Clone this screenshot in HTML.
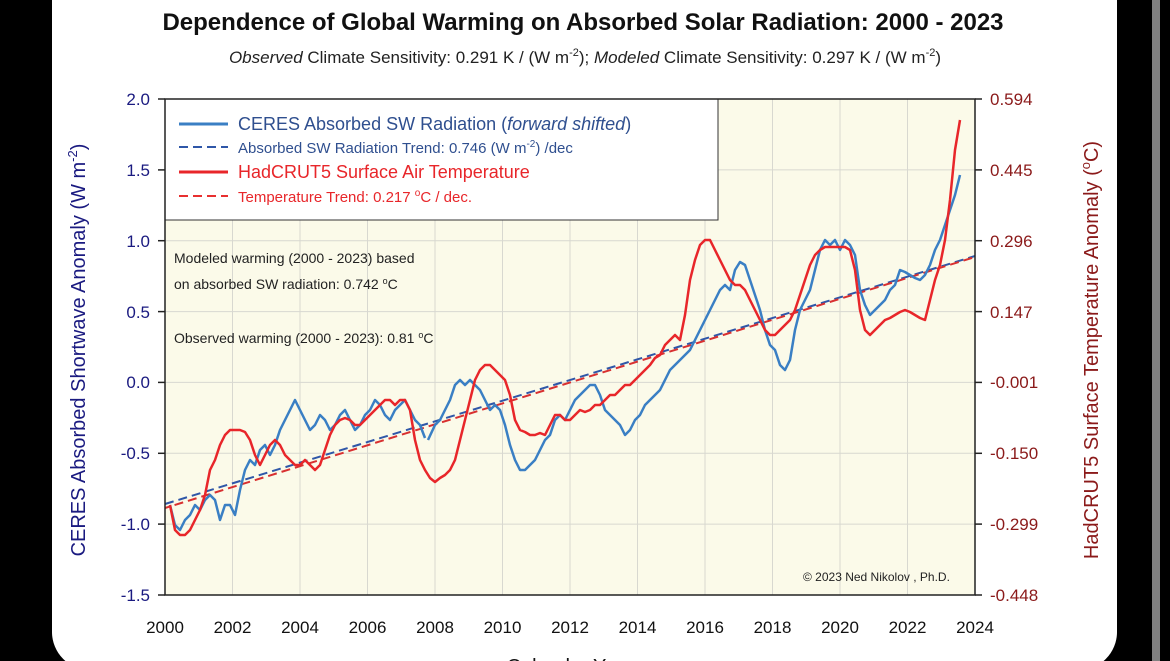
<!DOCTYPE html>
<html><head><meta charset="utf-8"><style>
body{margin:0;background:#000;width:1170px;height:661px;overflow:hidden}
svg{display:block}
text{font-family:"Liberation Sans",sans-serif}
</style></head><body>
<svg width="1170" height="661" viewBox="0 0 1170 661">
<rect width="1170" height="661" fill="#000"/>
<rect x="1152" y="0" width="8" height="661" fill="#808080"/>
<rect x="52" y="-40" width="1065" height="710" rx="38" fill="#fff"/>
<text x="583" y="30" text-anchor="middle" font-size="24" font-weight="bold" fill="#111">Dependence of Global Warming on Absorbed Solar Radiation: 2000 - 2023</text>
<text x="585" y="63" text-anchor="middle" font-size="17" fill="#222"><tspan font-style="italic">Observed</tspan> Climate Sensitivity: 0.291 K / (W m<tspan dy="-7" font-size="11">-2</tspan><tspan dy="7">);</tspan> <tspan font-style="italic">Modeled</tspan> Climate Sensitivity: 0.297 K / (W m<tspan dy="-7" font-size="11">-2</tspan><tspan dy="7">)</tspan></text>
<rect x="165" y="99" width="810" height="496" fill="#fbfae9"/>
<g stroke="#d8d8d0" stroke-width="1">
<line x1="232.5" y1="99" x2="232.5" y2="595"/><line x1="300" y1="99" x2="300" y2="595"/><line x1="367.5" y1="99" x2="367.5" y2="595"/><line x1="435" y1="99" x2="435" y2="595"/><line x1="502.5" y1="99" x2="502.5" y2="595"/><line x1="570" y1="99" x2="570" y2="595"/><line x1="637.5" y1="99" x2="637.5" y2="595"/><line x1="705" y1="99" x2="705" y2="595"/><line x1="772.5" y1="99" x2="772.5" y2="595"/><line x1="840" y1="99" x2="840" y2="595"/><line x1="907.5" y1="99" x2="907.5" y2="595"/>
<line x1="165" y1="169.9" x2="975" y2="169.9"/><line x1="165" y1="240.7" x2="975" y2="240.7"/><line x1="165" y1="311.6" x2="975" y2="311.6"/><line x1="165" y1="382.4" x2="975" y2="382.4"/><line x1="165" y1="453.3" x2="975" y2="453.3"/><line x1="165" y1="524.1" x2="975" y2="524.1"/>
</g>
<line x1="165" y1="504" x2="975" y2="256" stroke="#2f57a8" stroke-width="2" stroke-dasharray="9,5"/>
<line x1="165" y1="508" x2="975" y2="257" stroke="#d83030" stroke-width="2" stroke-dasharray="9,5" stroke-dashoffset="4"/>
<polyline fill="none" stroke="#3a7fc4" stroke-width="2.5" stroke-linejoin="round" points="170,505 175,525 180,530 185,520 190,515 195,505 200,510 205,500 210,495 215,500 220,520 225,505 230,505 235,515 240,490 245,470 250,460 255,465 260,450 265,445 270,455 275,445 280,430 285,420 290,410 295,400 300,410 305,420 310,430 315,425 320,415 325,420 330,430 335,425 340,415 345,410 350,420 355,430 360,425 365,415 370,410 375,400 380,405 385,415 390,420 395,410 400,405 405,400 410,410 415,420 420,425 425,438"/>
<polyline fill="none" stroke="#3a7fc4" stroke-width="2.5" stroke-linejoin="round" points="428,440 435,425 440,420 445,410 450,400 455,385 460,380 465,385 470,380 475,385 480,390 485,400 490,410 495,405 500,410 505,425 510,445 515,460 520,470 525,470 530,465 535,460 540,450 545,440 550,435 555,420 560,415 565,420 570,410 575,400 580,395 585,390 590,385 595,385 600,395 605,410 610,415 615,420 620,425 625,435 630,430 635,420 640,415 645,405 650,400 655,395 660,390 665,380 670,370 675,365 680,360 685,355 690,350 695,340 700,330 705,320 710,310 715,300 720,290 725,285 730,290 735,270 740,262 745,265 750,280 755,295 760,310 765,330 770,345 775,350 780,365 785,370 790,360 795,330 800,310 805,300 810,290 815,270 820,250 825,240 830,245 835,240 840,250 845,240 850,245 855,255 860,290 865,305 870,315 875,310 880,305 885,300 890,290 895,285 900,270 905,272 910,275 915,278 920,280 925,275 930,265 935,250 940,240 945,225 950,210 955,195 960,175"/>
<polyline fill="none" stroke="#e8262a" stroke-width="2.5" stroke-linejoin="round" points="170,505 175,530 180,535 185,535 190,530 195,520 200,510 205,495 210,470 215,460 220,445 225,435 230,430 235,430 240,430 245,432 250,440 255,455 260,465 265,455 270,445 275,440 280,445 285,455 290,460 295,465 300,465 305,460 310,465 315,470 320,465 325,450 330,435 335,425 340,420 345,418 350,420 355,425 360,425 365,420 370,415 375,410 380,405 385,400 390,400 395,405 400,400 405,400 410,410 415,440 420,460 425,470 430,478 435,482 440,478 445,475 450,470 455,460 460,440 465,420 470,400 475,380 480,370 485,365 490,365 495,370 500,375 505,380 510,395 515,420 520,430 525,432 530,435 535,435 540,433 545,435 550,425 555,415 560,415 565,420 570,420 575,415 580,410 585,412 590,410 595,405 600,405 605,400 610,395 615,395 620,390 625,385 630,385 635,380 640,375 645,370 650,365 655,358 660,355 665,345 670,340 675,335 680,340 685,315 690,280 695,260 700,245 705,240 710,240 715,250 720,260 725,270 730,280 735,285 740,285 745,290 750,300 755,310 760,320 765,330 770,335 775,335 780,330 785,325 790,320 795,310 800,295 805,280 810,265 815,255 820,250 825,247 830,247 835,247 840,247 845,247 850,250 855,270 860,310 865,330 870,335 875,330 880,325 885,320 890,318 895,315 900,312 905,310 910,312 915,315 920,318 925,320 930,300 935,280 940,265 945,240 950,200 955,150 960,120"/>
<rect x="165" y="99" width="553" height="121" fill="#fff" stroke="#333" stroke-width="1"/>
<line x1="179" y1="124" x2="228" y2="124" stroke="#3a7fc4" stroke-width="3"/>
<text x="238" y="130" font-size="18" fill="#2f4f8f">CERES Absorbed SW Radiation (<tspan font-style="italic">forward shifted</tspan>)</text>
<line x1="179" y1="147" x2="228" y2="147" stroke="#2f57a8" stroke-width="2" stroke-dasharray="9,5"/>
<text x="238" y="153" font-size="15" fill="#2f4f8f">Absorbed SW Radiation Trend: 0.746 (W m<tspan dy="-6" font-size="10">-2</tspan><tspan dy="6">) /dec</tspan></text>
<line x1="179" y1="172" x2="228" y2="172" stroke="#e8262a" stroke-width="3"/>
<text x="238" y="178" font-size="18" fill="#e8262a">HadCRUT5 Surface Air Temperature</text>
<line x1="179" y1="196" x2="228" y2="196" stroke="#e83030" stroke-width="2" stroke-dasharray="9,5"/>
<text x="238" y="202" font-size="15" fill="#e8262a">Temperature Trend: 0.217 <tspan dy="-6" font-size="10">o</tspan><tspan dy="6">C / dec.</tspan></text>
<g font-size="14" fill="#222">
<text x="174" y="263">Modeled warming (2000 - 2023) based</text>
<text x="174" y="289">on absorbed SW radiation: 0.742 <tspan dy="-5" font-size="9">o</tspan><tspan dy="5">C</tspan></text>
<text x="174" y="343">Observed warming (2000 - 2023): 0.81 <tspan dy="-5" font-size="9">o</tspan><tspan dy="5">C</tspan></text>
<text x="803" y="581" font-size="12">© 2023 Ned Nikolov , Ph.D.</text>
</g>
<rect x="165" y="99" width="810" height="496" fill="none" stroke="#222" stroke-width="1.5"/>
<g stroke="#222" stroke-width="1.5">
<line x1="158" y1="99" x2="165" y2="99"/><line x1="158" y1="169.9" x2="165" y2="169.9"/><line x1="158" y1="240.7" x2="165" y2="240.7"/><line x1="158" y1="311.6" x2="165" y2="311.6"/><line x1="158" y1="382.4" x2="165" y2="382.4"/><line x1="158" y1="453.3" x2="165" y2="453.3"/><line x1="158" y1="524.1" x2="165" y2="524.1"/><line x1="158" y1="595" x2="165" y2="595"/>
<line x1="975" y1="99" x2="982" y2="99"/><line x1="975" y1="169.9" x2="982" y2="169.9"/><line x1="975" y1="240.7" x2="982" y2="240.7"/><line x1="975" y1="311.6" x2="982" y2="311.6"/><line x1="975" y1="382.4" x2="982" y2="382.4"/><line x1="975" y1="453.3" x2="982" y2="453.3"/><line x1="975" y1="524.1" x2="982" y2="524.1"/><line x1="975" y1="595" x2="982" y2="595"/>
</g>
<g font-size="17" fill="#1a1a80" text-anchor="end">
<text x="150" y="105">2.0</text><text x="150" y="176">1.5</text><text x="150" y="247">1.0</text><text x="150" y="318">0.5</text><text x="150" y="388">0.0</text><text x="150" y="459">-0.5</text><text x="150" y="530">-1.0</text><text x="150" y="601">-1.5</text>
</g>
<g font-size="17" fill="#8b1a1a">
<text x="990" y="105">0.594</text><text x="990" y="176">0.445</text><text x="990" y="247">0.296</text><text x="990" y="318">0.147</text><text x="990" y="388">-0.001</text><text x="990" y="459">-0.150</text><text x="990" y="530">-0.299</text><text x="990" y="601">-0.448</text>
</g>
<g font-size="17" fill="#111" text-anchor="middle">
<text x="165" y="633">2000</text><text x="232.5" y="633">2002</text><text x="300" y="633">2004</text><text x="367.5" y="633">2006</text><text x="435" y="633">2008</text><text x="502.5" y="633">2010</text><text x="570" y="633">2012</text><text x="637.5" y="633">2014</text><text x="705" y="633">2016</text><text x="772.5" y="633">2018</text><text x="840" y="633">2020</text><text x="907.5" y="633">2022</text><text x="975" y="633">2024</text>
<text x="570" y="673" font-size="20">Calendar Year</text>
</g>
<text transform="translate(85,350) rotate(-90)" text-anchor="middle" font-size="20" fill="#1a1a80">CERES Absorbed Shortwave Anomaly (W m<tspan dy="-8" font-size="13">-2</tspan><tspan dy="8">)</tspan></text>
<text transform="translate(1098,350) rotate(-90)" text-anchor="middle" font-size="20" fill="#8b1a1a">HadCRUT5 Surface Temperature Anomaly (<tspan dy="-8" font-size="13">o</tspan><tspan dy="8">C)</tspan></text>
</svg>
</body></html>
